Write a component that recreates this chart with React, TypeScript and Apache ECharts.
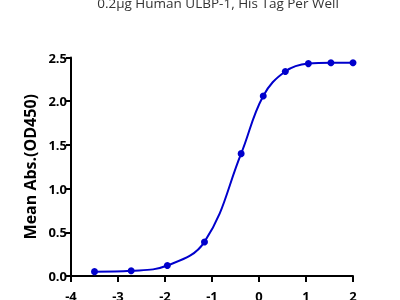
import React, { useEffect, useRef } from "react";
import * as echarts from "echarts";

const titleText = "0.2μg Human ULBP-1, His Tag Per Well";
const yAxisName = "Mean Abs.(OD450)";
const logConc = [-3.5, -2.72, -1.95, -1.16, -0.38, 0.09, 0.56, 1.05, 1.53, 2.0];
const meanAbs = [0.05, 0.06, 0.12, 0.39, 1.4, 2.06, 2.34, 2.43, 2.44, 2.44];

export default function App() {
  const ref = useRef<HTMLDivElement>(null);
  useEffect(() => {
    if (!ref.current) return;
    const chart = echarts.init(ref.current, null, { renderer: "svg" });
    const font = "'Open Sans', 'Noto Sans', sans-serif";
    chart.setOption({
      animation: false,
      title: {
        text: titleText,
        left: 213,
        textAlign: "center",
        top: -9,
        textStyle: { fontFamily: font, fontSize: 13.5, fontWeight: "normal", color: "#333" },
      },
      grid: { left: 71, right: 47, top: 57.5, bottom: 24, containLabel: false, outerBoundsMode: "none" },
      xAxis: {
        type: "value",
        min: -4,
        max: 2,
        interval: 1,
        splitLine: { show: false },
        axisLine: { onZero: false, lineStyle: { color: "#000", width: 2 } },
        axisTick: { length: 6, lineStyle: { color: "#000", width: 2 } },
        axisLabel: { margin: 13, color: "#000", fontWeight: "bold", fontSize: 13, fontFamily: font },
      },
      yAxis: {
        type: "value",
        min: 0,
        max: 2.5,
        interval: 0.5,
        name: yAxisName,
        nameLocation: "middle",
        nameGap: 32,
        nameTextStyle: { fontFamily: font, fontSize: 16, fontWeight: "bold", color: "#000" },
        splitLine: { show: false },
        axisLine: { show: true, onZero: false, lineStyle: { color: "#000", width: 2 } },
        axisTick: { show: true, length: 5, lineStyle: { color: "#000", width: 2 } },
        axisLabel: {
          margin: 4,
          color: "#000",
          fontWeight: "bold",
          fontSize: 13,
          fontFamily: font,
          formatter: (v: number) => v.toFixed(1),
        },
      },
      series: [
        {
          type: "line",
          data: logConc.map((x, i) => [x, meanAbs[i]]),
          smooth: 0.4,
          symbol: "circle",
          symbolSize: 7,
          clip: false,
          lineStyle: { color: "#0000CC", width: 2 },
          itemStyle: { color: "#0000CC" },
        },
      ],
    });
    return () => chart.dispose();
  }, []);
  return <div ref={ref} style={{ width: 400, height: 300, position: "fixed", left: 0, top: 0 }} />;
}
